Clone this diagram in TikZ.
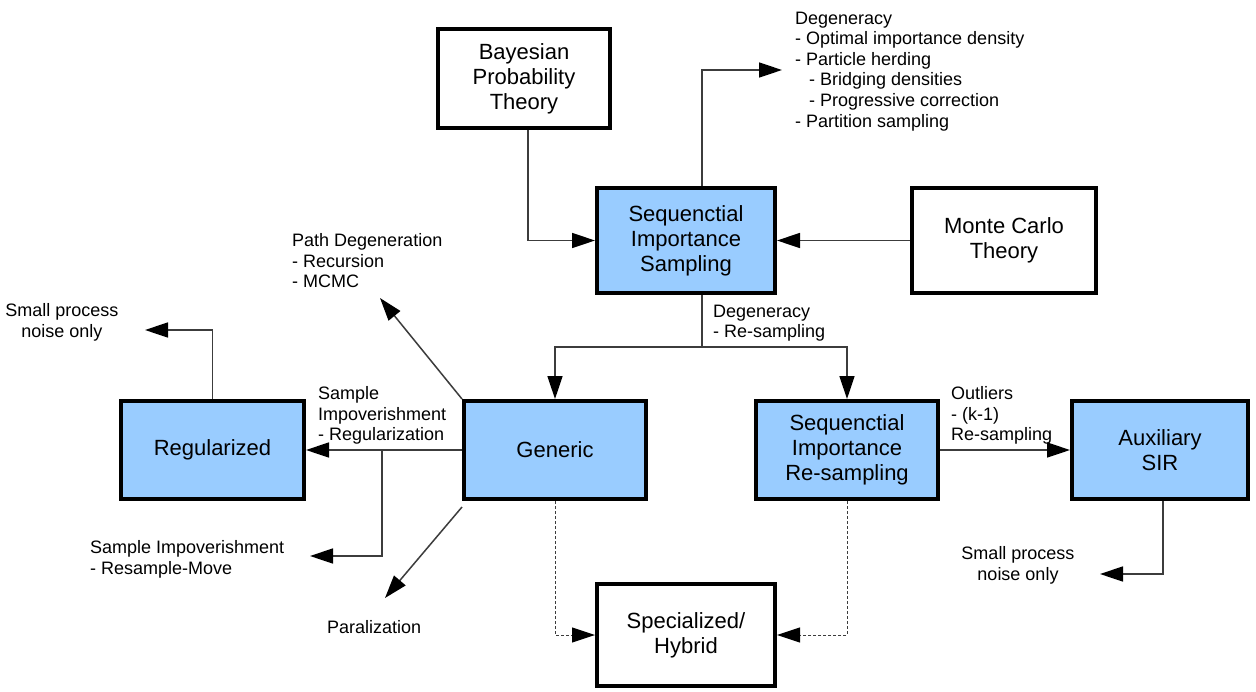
\documentclass[tikz,border=0pt]{standalone}
\usepackage{fontspec}
\setmainfont{Liberation Sans}
\usetikzlibrary{arrows.meta}
\definecolor{boxblue}{RGB}{153,204,255}
\definecolor{linegray}{RGB}{60,60,60}
\tikzset{
  box/.style={draw=black, line width=4pt, inner sep=0pt, align=center,
    font=\fontsize{22}{25}\selectfont, fill=white},
  bluebox/.style={box, fill=boxblue},
  lbl/.style={inner sep=0pt, font=\fontsize{18}{20.6}\selectfont},
  line/.style={draw=linegray, line width=1.5pt},
  tip/.style={-{Triangle[length=23pt,width=15pt,fill=black,color=black]}},
  conn/.style={line, tip},
  dconn/.style={draw=linegray, line width=1pt, dash pattern=on 3pt off 2pt, tip}
}
\begin{document}
\begin{tikzpicture}[x=1pt,y=-1pt]
\useasboundingbox[fill=white] (0,0) rectangle (1256,691);

% boxes
\node[box, minimum width=172pt, minimum height=99pt] (bay) at (524,78.5) {Bayesian\\Probability\\Theory};
\node[bluebox, minimum width=178pt, minimum height=105pt] (sis) at (686,240.5) {Sequenctial\\Importance\\Sampling};
\node[box, minimum width=184pt, minimum height=105pt] (mc) at (1004,240.5) {Monte Carlo\\Theory};
\node[bluebox, minimum width=183pt, minimum height=98pt] (reg) at (212.5,450) {Regularized};
\node[bluebox, minimum width=182pt, minimum height=98pt] (gen) at (555,450) {Generic};
\node[bluebox, minimum width=182pt, minimum height=98pt] (sir) at (847,450) {Sequenctial\\Importance\\Re-sampling};
\node[bluebox, minimum width=176pt, minimum height=98pt] (aux) at (1160,450) {Auxiliary\\SIR};
\node[box, minimum width=178pt, minimum height=102pt] (spec) at (686,635) {Specialized/\\Hybrid};

% labels
\node[lbl, anchor=north west, align=left] (ltop) at (795,11.5) {Degeneracy\\- Optimal importance density\\- Particle herding\\\hspace*{14pt}- Bridging densities\\\hspace*{14pt}- Progressive correction\\- Partition sampling};
\node[lbl, anchor=north west, align=left] (lpath) at (292,233.5) {Path Degeneration\\- Recursion\\- MCMC};
\node[lbl, anchor=north west, align=left] (ldeg) at (713,304.5) {Degeneracy\\- Re-sampling};
\node[lbl, anchor=north west, align=left] (lsreg) at (318,386.5) {Sample\\Impoverishment\\- Regularization};
\node[lbl, anchor=north west, align=left] (lout) at (951,386.5) {Outliers\\- (k-1)\\Re-sampling};
\node[lbl, anchor=north west, align=left] (lrm) at (90,540.5) {Sample Impoverishment\\- Resample-Move};
\node[lbl, anchor=north west, align=left] (lpar) at (327,620.5) {Paralization};
\node[lbl, anchor=north, align=center] (lsl) at (62,303.5) {Small process\\noise only};
\node[lbl, anchor=north, align=center] (lsr) at (1018,546.5) {Small process\\noise only};

% free ends
\coordinate (e1) at (782,70);
\coordinate (split) at (702,347);
\coordinate (b1) at (382,450);
\coordinate (e2) at (310,556);
\coordinate (e3) at (380,298);
\coordinate (e4) at (385,598);
\coordinate (e5) at (145,330);
\coordinate (e6) at (1100,574);

% connectors
\draw[conn] ([xshift=4pt]bay.south) |- (sis.west);
\draw[conn] (mc.west) -- (sis.east);
\draw[conn] ([xshift=16pt]sis.north) |- (e1);
\draw[line] ([xshift=16pt]sis.south) -- (split);
\draw[conn] (split) -| (gen.north);
\draw[conn] (split) -| (sir.north);
\draw[conn] (gen.west) -- (reg.east);
\draw[conn] (b1) |- (e2);
\draw[conn] (gen.north west) -- (e3);
\draw[conn] ([yshift=-6pt]gen.south west) -- (e4);
\draw[conn] (reg.north) |- (e5);
\draw[conn] (sir.east) -- (aux.west);
\draw[conn] ([xshift=3pt]aux.south) |- (e6);
\draw[dconn] (gen.south) |- (spec.west);
\draw[dconn] (sir.south) |- (spec.east);
\end{tikzpicture}
\end{document}
